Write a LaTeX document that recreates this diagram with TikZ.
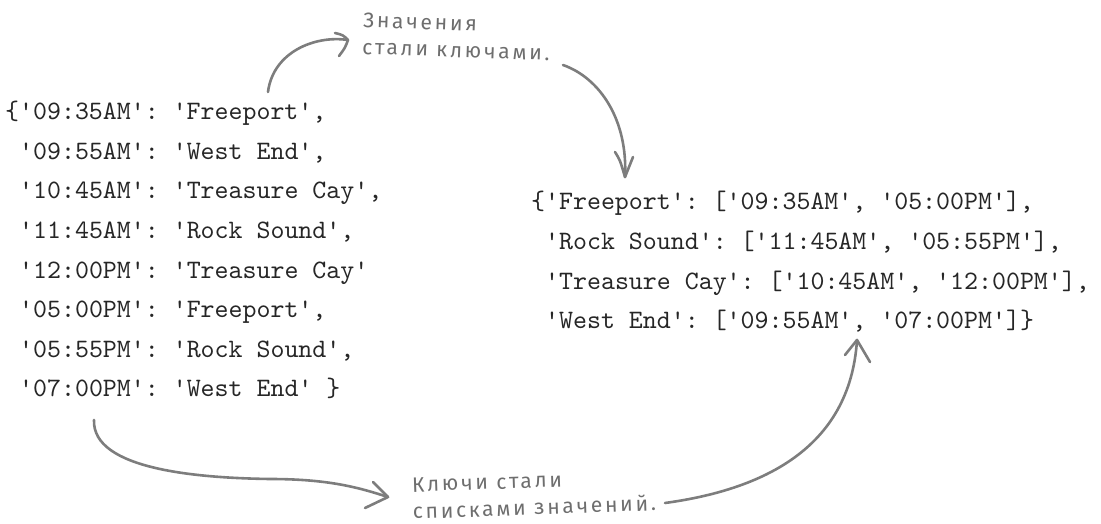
\documentclass[tikz,border=0pt]{standalone}
\usepackage{fontspec}
\setmonofont{lmmono10-regular}[Extension=.otf]
\newfontfamily\hand[LetterSpace=13]{Fira Sans}
\definecolor{codecol}{HTML}{262626}
\definecolor{notecol}{HTML}{6E6E6E}
\definecolor{arrowcol}{HTML}{7D7D7D}
\begin{document}
\begin{tikzpicture}[x=1pt,y=-1pt,
  code/.style={anchor=base west,inner sep=0pt,font=\ttfamily\fontsize{26.6}{30}\selectfont,text=codecol},
  note/.style={anchor=base west,inner sep=0pt,align=left,font=\hand\fontsize{21}{27}\selectfont,text=notecol},
  handarrow/.style={draw=arrowcol,line width=2.6pt,line cap=round,line join=round}]
\path[use as bounding box] (0,0) rectangle (1101,524);
% left dictionary
\node[code] (L0) at (5,120) {\{'09:35AM': 'Freeport',};
\node[code] (L1) at (19,159.5) {'09:55AM': 'West End',};
\node[code] (L2) at (19,199) {'10:45AM': 'Treasure Cay',};
\node[code] (L3) at (19,238.5) {'11:45AM': 'Rock Sound',};
\node[code] (L4) at (19,278) {'12:00PM': 'Treasure Cay'};
\node[code] (L5) at (19,317.5) {'05:00PM': 'Freeport',};
\node[code] (L6) at (19,357) {'05:55PM': 'Rock Sound',};
\node[code] (L7) at (19,396.5) {'07:00PM': 'West End' \}};
% right dictionary
\node[code] (R0) at (531,210) {\{'Freeport': ['09:35AM', '05:00PM'],};
\node[code] (R1) at (545,249.5) {'Rock Sound': ['11:45AM', '05:55PM'],};
\node[code] (R2) at (545,289) {'Treasure Cay': ['10:45AM', '12:00PM'],};
\node[code] (R3) at (545,328.5) {'West End': ['09:55AM', '07:00PM']\}};
% notes
\node[note,rotate=-2] (T) at (362,54) {Значения\\стали ключами.};
\node[note,rotate=2] (B) at (413,519) {Ключи стали\\списками значений.};
% arrow end points
\coordinate (a1s) at (268,92);
\coordinate (a1e) at (348,40);
\coordinate (a2s) at (563,65);
\coordinate (a2e) at (625,177);
\coordinate (a3s) at (94,420);
\coordinate (a3m) at (270,479);
\coordinate (a3e) at (388,497);
\coordinate (a4s) at (665,503);
\coordinate (a4e) at (857,340);
% arrows
\draw[handarrow] (a1s) .. controls (273,52) and (315,35) .. (a1e);
\draw[handarrow] (335,33) .. controls (343,35) .. (a1e) .. controls (345,48) .. (339,56);
\draw[handarrow] (a2s) .. controls (600,78) and (628,120) .. (a2e);
\draw[handarrow] (615,152) .. controls (620,160) .. (a2e) -- (633,157);
\draw[handarrow] (a3s) .. controls (92,470) and (200,478) .. (a3m) .. controls (330,479) and (360,488) .. (a3e);
\draw[handarrow] (373,482) -- (a3e) -- (365,508);
\draw[handarrow] (a4s) .. controls (760,490) and (850,450) .. (a4e);
\draw[handarrow] (845,355) -- (a4e) -- (870,362);
\end{tikzpicture}
\end{document}
